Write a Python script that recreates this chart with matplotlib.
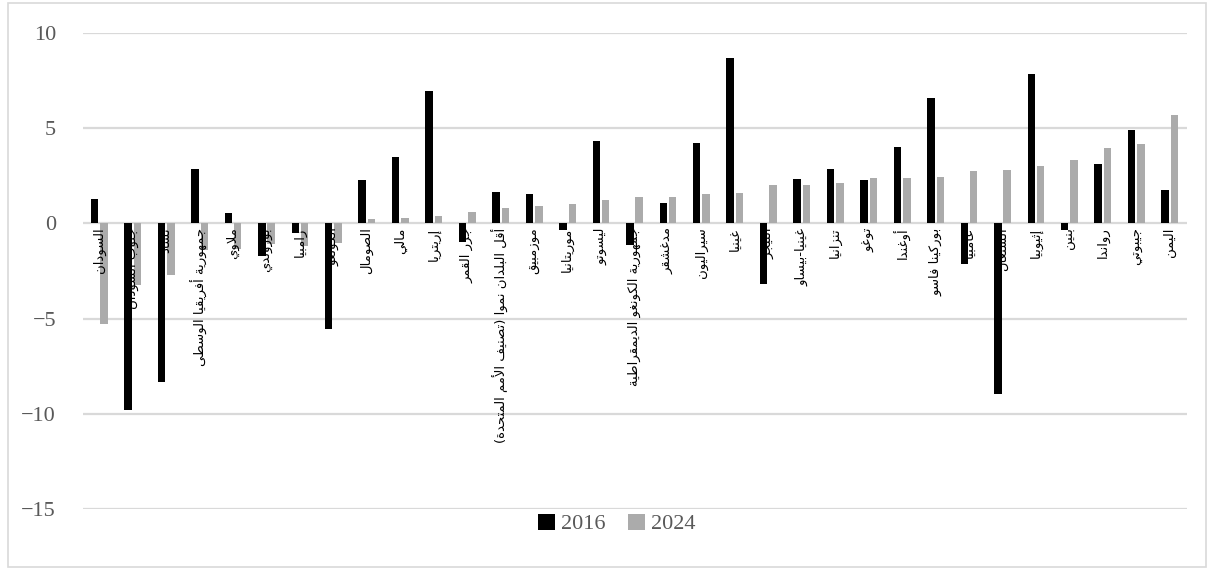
import matplotlib
matplotlib.use("Agg")
import matplotlib.pyplot as plt
from matplotlib.patches import Patch, Rectangle
import numpy as np

categories = [
    "السودان", "جنوب السودان", "تشاد", "جمهورية أفريقيا الوسطى", "ملاوي",
    "بوروندي", "زامبيا", "الكونغو", "الصومال", "مالي", "إريتريا", "جزر القمر",
    "أقل البلدان نموا (تصنيف الأمم المتحدة)", "موزمبيق", "موريتانيا", "ليسوتو",
    "جمهورية الكونغو الديمقراطية", "مدغشقر", "سيراليون", "غينيا", "النيجر",
    "غينيا-بيساو", "تنزانيا", "توغو", "أوغندا", "بوركينا فاسو", "غامبيا",
    "السنغال", "إثيوبيا", "بنين", "رواندا", "جيبوتي", "اليمن",
]
values_2016 = [1.25, -9.8, -8.35, 2.87, 0.54, -1.7, -0.53, -5.54, 2.27, 3.48, 6.92,
               -0.98, 1.63, 1.52, -0.37, 4.32, -1.14, 1.07, 4.21, 8.69, -3.21,
               2.33, 2.85, 2.29, 3.99, 6.56, -2.16, -8.96, 7.85, -0.35, 3.09, 4.91, 1.73]
values_2024 = [-5.28, -3.26, -2.7, -1.4, -1.35, -1.1, -1.19, -1.05, 0.23, 0.28, 0.37,
               0.61, 0.8, 0.91, 1.01, 1.21, 1.36, 1.36, 1.56, 1.57, 1.99,
               1.99, 2.1, 2.38, 2.4, 2.43, 2.74, 2.81, 2.99, 3.32, 3.95, 4.18, 5.68]
series_names = ["2016", "2024"]
y_ticks = [-15, -10, -5, 0, 5, 10]

# ---- minimal Arabic shaping (presentation forms + visual order) ----
_ISO = {'آ': 0xFE81, 'أ': 0xFE83, 'ؤ': 0xFE85, 'إ': 0xFE87, 'ئ': 0xFE89, 'ا': 0xFE8D,
        'ب': 0xFE8F, 'ة': 0xFE93, 'ت': 0xFE95, 'ث': 0xFE99, 'ج': 0xFE9D, 'ح': 0xFEA1,
        'خ': 0xFEA5, 'د': 0xFEA9, 'ذ': 0xFEAB, 'ر': 0xFEAD, 'ز': 0xFEAF, 'س': 0xFEB1,
        'ش': 0xFEB5, 'ص': 0xFEB9, 'ض': 0xFEBD, 'ط': 0xFEC1, 'ظ': 0xFEC5, 'ع': 0xFEC9,
        'غ': 0xFECD, 'ف': 0xFED1, 'ق': 0xFED5, 'ك': 0xFED9, 'ل': 0xFEDD, 'م': 0xFEE1,
        'ن': 0xFEE5, 'ه': 0xFEE9, 'و': 0xFEED, 'ى': 0xFEEF, 'ي': 0xFEF1}
_RIGHT = set('آأؤإاةدذرزوى')
_DUAL = set(_ISO) - _RIGHT
_LAMALEF = {'آ': 0xFEF5, 'أ': 0xFEF7, 'إ': 0xFEF9, 'ا': 0xFEFB}
_MIRROR = {'(': ')', ')': '('}


def shape(text):
    ch = list(text)
    n = len(ch)
    out = []
    i = 0
    while i < n:
        c = ch[i]
        jp = i > 0 and ch[i - 1] in _DUAL and c in _ISO
        if c == 'ل' and i + 1 < n and ch[i + 1] in _LAMALEF:
            out.append(chr(_LAMALEF[ch[i + 1]] + (1 if jp else 0)))
            i += 2
            continue
        if c in _ISO:
            jn = c in _DUAL and i + 1 < n and ch[i + 1] in _ISO
            base = _ISO[c]
            if jp and jn:
                code = base + 3
            elif jp:
                code = base + 1
            elif jn:
                code = base + 2
            else:
                code = base
            out.append(chr(code))
        else:
            out.append(c)
        i += 1
    return ''.join(_MIRROR.get(c, c) for c in reversed(out))


plt.rcParams['font.family'] = ['Liberation Serif', 'DejaVu Sans']

W, H = 1214, 570
fig = plt.figure(figsize=(W / 100, H / 100), dpi=100)
ax = fig.add_axes([82.5 / W, 1 - 509.2 / H, (1186.5 - 82.5) / W, (509.2 - 32.7) / H])

x = np.arange(len(categories))
bw = 0.225
off = 0.14
ax.bar(x - off, values_2016, width=bw, color='#000000', zorder=2, label=series_names[0])
ax.bar(x + off, values_2024, width=bw, color='#ababab', zorder=2, label=series_names[1])

ax.set_xlim(-0.5, len(categories) - 0.5)
ax.set_ylim(-15, 10)
ax.set_yticks(y_ticks)
ax.yaxis.grid(True, color='#d9d9d9', linewidth=1.6, zorder=0)
ax.set_axisbelow(True)
ax.tick_params(axis='y', length=0, pad=19, labelsize=16, labelcolor='#595959')
ax.set_xticks([])
for s in ax.spines.values():
    s.set_visible(False)

for xi, lab in zip(x, categories):
    ax.annotate(shape(lab), xy=(xi, 0), xytext=(0, -3), textcoords='offset points',
                rotation=90, ha='center', va='top', fontsize=9.5,
                family='DejaVu Sans', color='#000000', zorder=5)

handles = [Patch(facecolor='#000000'), Patch(facecolor='#ababab')]
fig.legend(handles, series_names, loc='center', bbox_to_anchor=(617 / W, 1 - 524 / H),
           ncol=2, frameon=False, fontsize=16, handlelength=0.75, handleheight=0.75,
           handletextpad=0.3, columnspacing=1.0, labelcolor='#595959')

fig.patches.append(Rectangle((8 / W, 3 / H), (1206 - 8) / W, (567 - 3) / H,
                             transform=fig.transFigure, fill=False,
                             edgecolor='#d9d9d9', linewidth=1.2))

fig.savefig('out.png', dpi=100)
